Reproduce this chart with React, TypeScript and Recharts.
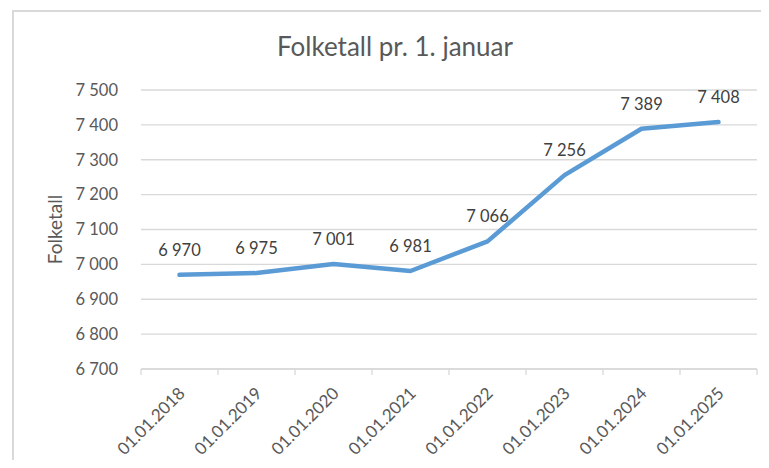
import { CartesianGrid, LabelList, Line, LineChart, XAxis, YAxis } from "recharts";

const datoer = [
  "01.01.2018",
  "01.01.2019",
  "01.01.2020",
  "01.01.2021",
  "01.01.2022",
  "01.01.2023",
  "01.01.2024",
  "01.01.2025",
];
const folketall = [6970, 6975, 7001, 6981, 7066, 7256, 7389, 7408];
const yTicks = [6700, 6800, 6900, 7000, 7100, 7200, 7300, 7400, 7500];

// category i sits at i + 0.5; tick marks go on the whole numbers between them
const data = datoer.map((dato, i) => ({ dato, pos: i + 0.5, folketall: folketall[i] }));
const xTicks = Array.from({ length: datoer.length * 2 + 1 }, (_, i) => i / 2);

const FONT = "Lato, 'Open Sans', sans-serif";
const GRAY = "#595959";

const fmt = (v: number) => {
  const s = String(Math.round(v));
  return s.length > 3 ? `${s.slice(0, -3)} ${s.slice(-3)}` : s;
};

function XTick(props: any) {
  const { x, y, payload } = props;
  const v = payload.value as number;
  if (Number.isInteger(v)) {
    return <line x1={x} y1={y} x2={x} y2={y + 6} stroke="#D9D9D9" strokeWidth={1.3} />;
  }
  const tx = x - 2;
  const ty = y + 17;
  return (
    <text
      x={tx}
      y={ty}
      transform={`rotate(-45 ${tx} ${ty})`}
      textAnchor="end"
      dy="0.71em"
      fontSize={17}
      fill={GRAY}
      fontFamily={FONT}
    >
      {datoer[Math.floor(v)]}
    </text>
  );
}

export default function App() {
  return (
    <div style={{ margin: -8, width: 769, height: 468, position: "relative", overflow: "hidden", background: "#fff", fontFamily: FONT }}>
      <div
        style={{
          position: "absolute",
          left: 12,
          top: 10,
          right: 0,
          bottom: -10,
          borderTop: "2px solid #D9D9D9",
          borderLeft: "2px solid #D9D9D9",
        }}
      />
      <div
        style={{
          position: "absolute",
          left: 195,
          width: 400,
          top: 30,
          textAlign: "center",
          fontSize: 26,
          lineHeight: "32px",
          color: GRAY,
        }}
      >
        Folketall pr. 1. januar
      </div>
      <LineChart
        width={769}
        height={468}
        data={data}
        margin={{ top: 90, right: 12, left: 0, bottom: 0 }}
        style={{ position: "absolute", left: 0, top: 0 }}
      >
        <CartesianGrid vertical={false} stroke="#D9D9D9" strokeWidth={1.3} />
        <XAxis
          dataKey="pos"
          type="number"
          domain={[0, datoer.length]}
          ticks={xTicks}
          interval={0}
          height={99}
          tick={XTick}
          tickLine={false}
          tickSize={0}
          tickMargin={0}
          stroke="#D9D9D9"
          strokeWidth={1.3}
        />
        <YAxis
          width={141}
          domain={[6700, 7500]}
          ticks={yTicks}
          axisLine={false}
          tickLine={false}
          tickSize={0}
          tickMargin={23}
          tickFormatter={fmt}
          tick={{ fontSize: 16.5, fill: GRAY, fontFamily: FONT }}
          label={{
            content: (p: any) => {
              const vb = p.viewBox || { y: 90, height: 279 };
              const cy = vb.y + vb.height / 2;
              return (
                <text
                  x={54}
                  y={cy}
                  transform={`rotate(-90 54 ${cy})`}
                  textAnchor="middle"
                  dominantBaseline="central"
                  fontSize={19}
                  fill={GRAY}
                  fontFamily={FONT}
                >
                  Folketall
                </text>
              );
            },
          }}
        />
        <Line
          dataKey="folketall"
          stroke="#5B9BD5"
          strokeWidth={4.5}
          strokeLinecap="round"
          strokeLinejoin="round"
          dot={false}
          isAnimationActive={false}
        >
          <LabelList
            dataKey="folketall"
            position="top"
            offset={19}
            formatter={(v: any) => fmt(Number(v))}
            style={{ fontSize: 16.5, fill: "#404040", fontFamily: FONT }}
          />
        </Line>
      </LineChart>
    </div>
  );
}
